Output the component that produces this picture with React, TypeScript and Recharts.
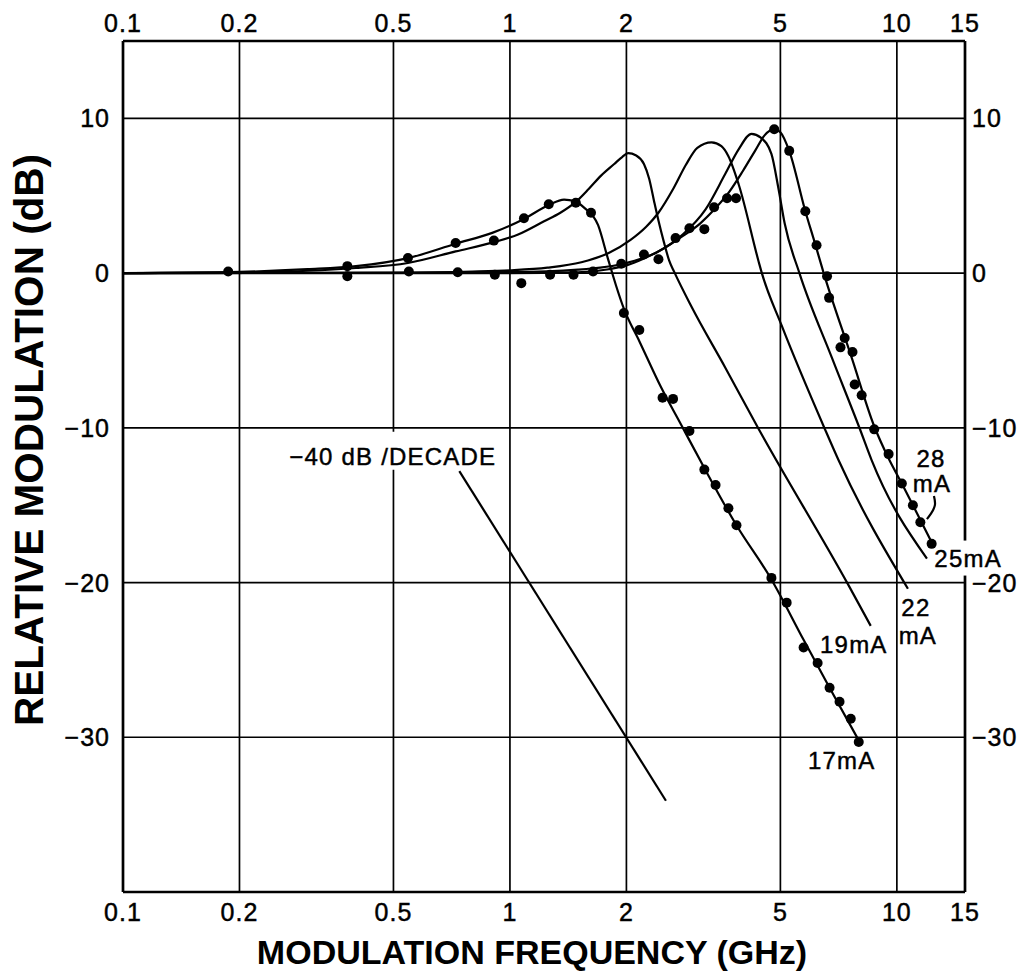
import React from "react";
import {
    CartesianGrid,
    ComposedChart,
    Line,
    ReferenceDot,
    Scatter,
    XAxis,
    YAxis
} from "recharts";

const xTicks = [0.1, 0.2, 0.5, 1, 2, 5, 10, 15];
const yTicks = [-30, -20, -10, 0, 10];

// fitted curves (GHz, dB)
const fit17F = [0.1, 0.2, 0.3, 0.4, 0.545, 0.724, 0.9, 1.087, 1.26, 1.38, 1.47, 1.56, 1.69, 1.79, 1.88, 1.97, 2.16, 2.46, 2.77, 3.18, 3.85, 4.74, 5.74, 6.7, 7.97];
const fit17Db = [0, 0.08, 0.25, 0.45, 0.97, 1.9, 2.6, 3.5, 4.4, 4.75, 4.65, 4.2, 3.1, 0.97, -0.8, -2.3, -4.4, -7.4, -9.8, -12.6, -16.3, -19.8, -23.7, -26.8, -30.2];

const fit19F = [0.1, 0.2, 0.3, 0.4, 0.545, 0.724, 0.909, 1.05, 1.225, 1.35, 1.48, 1.6, 1.72, 1.86, 1.95, 2.02, 2.12, 2.22, 2.29, 2.36, 2.42, 2.5, 2.58, 2.66, 2.94, 3.6, 4.39, 7.51, 8.56];
const fit19Db = [0, 0.05, 0.15, 0.33, 0.65, 1.4, 2.0, 2.5, 3.35, 3.9, 4.6, 5.45, 6.3, 7.05, 7.5, 7.75, 7.6, 7.05, 6.1, 4.6, 3.4, 2.0, 0.8, 0.06, -2.13, -6.1, -10.06, -20.2, -22.8];

const fit22F = [0.1, 0.5, 0.8, 1.0, 1.25, 1.53, 1.8, 2.05, 2.25, 2.42, 2.65, 2.85, 3.05, 3.32, 3.52, 3.67, 3.9, 4.39, 4.47, 5.04, 6.51, 7.07, 10.68];
const fit22Db = [0, 0.03, 0.1, 0.18, 0.35, 0.7, 1.3, 2.15, 3.0, 3.9, 5.5, 7.0, 8.1, 8.45, 8.2, 7.55, 5.74, 0.77, 0.06, -3.4, -10.06, -12.1, -20.4];

const fit25F = [0.1, 0.5, 1.0, 1.5, 2.0, 2.4, 2.8, 3.2, 3.6, 3.9, 4.21, 4.45, 4.74, 4.94, 5.13, 5.6, 6.8, 8.02, 8.61, 11.96];
const fit25Db = [0, 0.02, 0.06, 0.22, 0.65, 1.35, 2.5, 4.1, 6.4, 8.0, 9.0, 8.75, 7.7, 5.5, 3.2, 0, -5.5, -10.06, -12.1, -18.45];

const fit28F = [0.1, 1.0, 1.5, 1.8, 2.0, 2.22, 2.5, 2.8, 3.1, 3.4, 3.7, 4.0, 4.3, 4.55, 4.82, 5.0, 5.27, 5.8, 6.13, 6.47, 7.65, 8.74, 9.53, 10.3, 11.0, 12.3];
const fit28Db = [0, 0, 0.05, 0.25, 0.5, 0.95, 1.6, 2.4, 3.2, 4.2, 5.3, 6.6, 7.9, 8.9, 9.3, 9.1, 7.9, 4.0, 2.0, 0, -5.5, -9.9, -12.0, -13.6, -15.0, -17.4];

// measured points
const meas17F = [0.187, 0.38, 0.545, 0.724, 0.909, 1.087, 1.26, 1.48, 1.62, 1.97, 2.16, 2.48, 2.64, 2.91, 3.18, 3.4, 3.67, 3.85, 4.74, 5.19, 5.74, 6.24, 6.7, 7.11, 7.6, 7.97];
const meas17Db = [0.1, 0.45, 0.97, 1.94, 2.1, 3.55, 4.45, 4.55, 3.9, -2.58, -3.68, -8.06, -8.13, -10.2, -12.7, -13.7, -15.2, -16.3, -19.7, -21.3, -24.2, -25.2, -26.8, -27.7, -28.8, -30.3];

const meas28F = [0.38, 0.548, 0.733, 0.914, 1.07, 1.27, 1.46, 1.64, 1.94, 2.22, 2.42, 2.68, 2.91, 3.18, 3.37, 3.64, 3.84, 4.82, 5.27, 5.8, 6.2, 6.6, 6.68, 7.15, 7.33, 7.68, 7.78, 8.11, 8.74, 9.52, 10.3, 11.0, 11.5, 12.3];
const meas28Db = [-0.2, 0.1, 0.05, -0.1, -0.65, -0.1, -0.1, 0.1, 0.6, 1.2, 0.9, 2.26, 2.9, 2.84, 4.26, 4.84, 4.84, 9.3, 7.9, 4.0, 1.8, -0.2, -1.6, -4.8, -4.2, -5.1, -7.2, -7.9, -10.1, -11.7, -13.6, -15.0, -16.1, -17.5];

// -40 dB/decade reference slope
const slopeF = [0.74, 2.53];
const slopeDb = [-12.8, -34.1];

// little leader from "28 mA" to its curve
const leaderF = [12.47, 12.54, 12.25, 11.96];
const leaderDb = [-14.4, -15.0, -15.55, -15.9];

const pts = (f: number[], db: number[]) => f.map((v, i) => ({ f: v, db: db[i] }));

const font = "'Liberation Sans', Arial, Helvetica, sans-serif";
const ink = "#000";

const tag = (text: string, box?: number[]) => (p: any) => (
    <g>
        {box && <rect x={p.cx + box[0]} y={p.cy + box[1]} width={box[2]} height={box[3]} fill="#fff" />}
        <text x={p.cx} y={p.cy} dy="0.36em" textAnchor="middle" fontFamily={font} fontSize={24} letterSpacing={1.2}
            fill={ink} stroke={ink} strokeWidth={0.45}>
            {text}
        </text>
    </g>
);

const dot = (p: any) => <circle cx={p.cx} cy={p.cy} r={5} fill={ink} />;

const fmtY = (v: number) => (v < 0 ? `\u2212${-v}` : `${v}`);

const tickFor = (side: string) => (p: any) => {
    const v = p.payload.value;
    const s = side === "l" || side === "r" ? fmtY(v) : `${v}`;
    const dy = side === "b" ? "0.72em" : side === "t" ? "0" : "0.36em";
    return (
        <text x={p.x} y={p.y} dy={dy} textAnchor={p.textAnchor} fontFamily={font} fontSize={25} letterSpacing={1}
            fill={ink} stroke={ink} strokeWidth={0.45}>
            {s}
        </text>
    );
};

const xTitle = (p: any) => {
    const vb = p.viewBox || { x: 123, y: 892, width: 842, height: 83 };
    return (
        <text x={vb.x + vb.width / 2 - 12} y={vb.y + vb.height - 11} textAnchor="middle" fontFamily={font} fontWeight="bold" fontSize={34} fill={ink}>
            MODULATION FREQUENCY (GHz)
        </text>
    );
};

const yTitle = () => (
    <text x={28} y={440} dy="0.36em" transform="rotate(-90 28 440)" textAnchor="middle" fontFamily={font} fontWeight="bold" fontSize={40.5} fill={ink}>
        RELATIVE MODULATION (dB)
    </text>
);

const axisLine = { stroke: ink, strokeWidth: 2.7 };

const curve = (data: any[], key: string, type: any = "monotone") => (
    <Line key={key} xAxisId="b" yAxisId="l" data={data} dataKey="db" type={type} stroke={ink} strokeWidth={2.2} dot={false} activeDot={false} isAnimationActive={false} />
);

const App = () => {
    return (
        <div style={{ position: "absolute", left: 0, top: 0, width: 1024, height: 975, background: "#fff" }}>
            <ComposedChart width={1024} height={975} margin={{ top: 0, right: 0, bottom: 0, left: 0 }}>
                <XAxis xAxisId="b" type="number" dataKey="f" scale="log" domain={[0.1, 15]} ticks={xTicks} allowDataOverflow
                    orientation="bottom" height={83} tickSize={0} tickMargin={11} tickLine={false} axisLine={axisLine} tick={tickFor("b")}
                    label={{ content: xTitle }} />
                <XAxis xAxisId="t" type="number" dataKey="f" scale="log" domain={[0.1, 15]} ticks={xTicks} allowDataOverflow
                    orientation="top" height={41} tickSize={0} tickMargin={9} tickLine={false} axisLine={axisLine} tick={tickFor("t")} />
                <YAxis yAxisId="l" type="number" dataKey="db" domain={[-40, 15]} ticks={yTicks} allowDataOverflow
                    width={123} tickSize={0} tickMargin={13} tickLine={false} axisLine={axisLine} tick={tickFor("l")}
                    label={{ content: yTitle }} />
                <YAxis yAxisId="r" type="number" dataKey="db" orientation="right" domain={[-40, 15]} ticks={yTicks} allowDataOverflow
                    width={59} tickSize={0} tickMargin={7} tickLine={false} axisLine={axisLine} tick={tickFor("r")} />
                <CartesianGrid xAxisId="b" yAxisId="l" stroke={ink} strokeWidth={1.7} />

                <ReferenceDot xAxisId="b" yAxisId="l" x={0.498} y={-11.87} r={0} ifOverflow="visible" shape={tag("\u221240 dB /DECADE", [-109, -25, 219, 38])} />
                <ReferenceDot xAxisId="b" yAxisId="l" x={7.2} y={-31.5} r={0} ifOverflow="visible" shape={tag("17mA")} />
                <ReferenceDot xAxisId="b" yAxisId="l" x={7.74} y={-24.0} r={0} ifOverflow="visible" shape={tag("19mA")} />
                <ReferenceDot xAxisId="b" yAxisId="l" x={11.2} y={-21.6} r={0} ifOverflow="visible" shape={tag("22")} />
                <ReferenceDot xAxisId="b" yAxisId="l" x={11.33} y={-23.4} r={0} ifOverflow="visible" shape={tag("mA")} />
                <ReferenceDot xAxisId="b" yAxisId="l" x={15.28} y={-18.45} r={0} ifOverflow="visible" shape={tag("25mA", [-16, -18, 36, 35])} />
                <ReferenceDot xAxisId="b" yAxisId="l" x={12.25} y={-11.98} r={0} ifOverflow="visible" shape={tag("28")} />
                <ReferenceDot xAxisId="b" yAxisId="l" x={12.32} y={-13.62} r={0} ifOverflow="visible" shape={tag("mA")} />

                {curve(pts(fit17F, fit17Db), "c17")}
                {curve(pts(fit19F, fit19Db), "c19")}
                {curve(pts(fit22F, fit22Db), "c22")}
                {curve(pts(fit25F, fit25Db), "c25")}
                {curve(pts(fit28F, fit28Db), "c28")}
                {curve(pts(slopeF, slopeDb), "slope", "linear")}
                {curve(pts(leaderF, leaderDb), "leader", "natural")}

                <Scatter xAxisId="b" yAxisId="l" data={pts(meas17F, meas17Db)} dataKey="db" shape={dot} isAnimationActive={false} />
                <Scatter xAxisId="b" yAxisId="l" data={pts(meas28F, meas28Db)} dataKey="db" shape={dot} isAnimationActive={false} />
            </ComposedChart>
        </div>
    );
};

export default App;
